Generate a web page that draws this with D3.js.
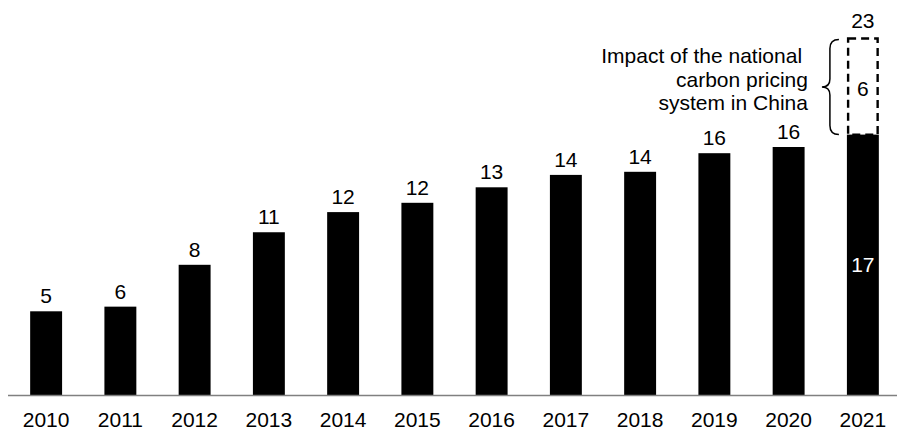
<!DOCTYPE html>
<html>
<head>
<meta charset="utf-8">
<script src="https://cdn.jsdelivr.net/npm/d3@7"></script>
<style>
  html, body { margin: 0; padding: 0; background: #fff; }
  svg { display: block; font-family: Arial, "Liberation Sans", sans-serif; }
</style>
</head>
<body>
<svg id="chart" width="898" height="433"></svg>
<script>
// Years on the x axis
const YEARS = ['2010', '2011', '2012', '2013', '2014', '2015', '2016', '2017', '2018', '2019', '2020', '2021'];
// Bar values (labels show rounded numbers)
const VALUES = [5.4, 5.7, 8.4, 10.5, 11.8, 12.4, 13.4, 14.2, 14.4, 15.6, 16.0, 16.8];
// Extra slice on the last year: impact of China's national carbon pricing system
const CHINA_YEAR = '2021';
const CHINA_EXTRA = 6.2;
const NOTE_LINES = ['Impact of the national\u00a0', 'carbon pricing', 'system in China'];

const svg = d3.select('#chart');
const W = 898, H = 433;
const baseY = 395;

const x = d3.scaleBand()
  .domain(YEARS)
  .range([9, 900])
  .paddingInner(0.57)
  .paddingOuter(0.285);

const y = d3.scaleLinear()
  .domain([0, 25])
  .range([baseY, baseY - 25 * 15.5]);

const fmt = v => d3.format('.0f')(v);

// Bars
svg.append('g')
  .selectAll('rect')
  .data(VALUES)
  .join('rect')
  .attr('x', (d, i) => x(YEARS[i]))
  .attr('y', d => y(d))
  .attr('width', x.bandwidth())
  .attr('height', d => y(0) - y(d))
  .attr('fill', '#000');

// Value labels above bars (not the last one, it sits inside)
const last = YEARS.length - 1;
svg.append('g')
  .selectAll('text')
  .data(VALUES)
  .join('text')
  .attr('x', (d, i) => x(YEARS[i]) + x.bandwidth() / 2)
  .attr('y', (d, i) => i === last ? (y(d) + y(0)) / 2 + 7.5 : y(d) - 8)
  .attr('text-anchor', 'middle')
  .attr('font-size', '21px')
  .attr('fill', (d, i) => i === last ? '#fff' : '#000')
  .text(d => fmt(d));

// Dashed extra slice for China
const cx0 = x(CHINA_YEAR);
const base = VALUES[YEARS.indexOf(CHINA_YEAR)];
const total = base + CHINA_EXTRA;
svg.append('rect')
  .attr('x', cx0 + 1.2)
  .attr('y', y(total))
  .attr('width', x.bandwidth() - 2.4)
  .attr('height', y(base) - y(total))
  .attr('fill', 'none')
  .attr('stroke', '#000')
  .attr('stroke-width', 2.4)
  .attr('stroke-dasharray', '8,5');

svg.append('text')
  .attr('x', cx0 + x.bandwidth() / 2)
  .attr('y', (y(total) + y(base)) / 2 + 9)
  .attr('text-anchor', 'middle')
  .attr('font-size', '21px')
  .text(fmt(CHINA_EXTRA));

svg.append('text')
  .attr('x', cx0 + x.bandwidth() / 2)
  .attr('y', y(total) - 11)
  .attr('text-anchor', 'middle')
  .attr('font-size', '21px')
  .text(fmt(total));

// Curly brace
const bt = y(total) + 1, bb = y(base);
const bm = (bt + bb) / 2;
const bx = cx0 - 8, bi = bx - 9, tip = bx - 17;
svg.append('path')
  .attr('d', `M${bx},${bt} Q${bi},${bt} ${bi},${bt + 9} L${bi},${bm - 8} Q${bi},${bm} ${tip},${bm}`
    + ` Q${bi},${bm} ${bi},${bm + 8} L${bi},${bb - 9} Q${bi},${bb} ${bx},${bb}`)
  .attr('fill', 'none')
  .attr('stroke', '#000')
  .attr('stroke-width', 1.5);

// Annotation
svg.append('text')
  .attr('text-anchor', 'end')
  .attr('font-size', '21px')
  .selectAll('tspan')
  .data(NOTE_LINES)
  .join('tspan')
  .attr('x', tip - 14)
  .attr('y', (d, i) => 63 + i * 23.5)
  .text(d => d);

// X axis
const axis = svg.append('g')
  .attr('transform', `translate(0,${baseY})`)
  .call(d3.axisBottom(x).tickSize(0).tickPadding(17));
axis.select('.domain').remove();
axis.selectAll('text')
  .attr('font-size', '21px')
  .attr('font-family', 'Arial, "Liberation Sans", sans-serif')
  .attr('fill', '#000');
svg.append('line')
  .attr('x1', 8).attr('x2', 897)
  .attr('y1', baseY + 0.5).attr('y2', baseY + 0.5)
  .attr('stroke', '#808080')
  .attr('stroke-width', 1.5);
</script>
</body>
</html>
